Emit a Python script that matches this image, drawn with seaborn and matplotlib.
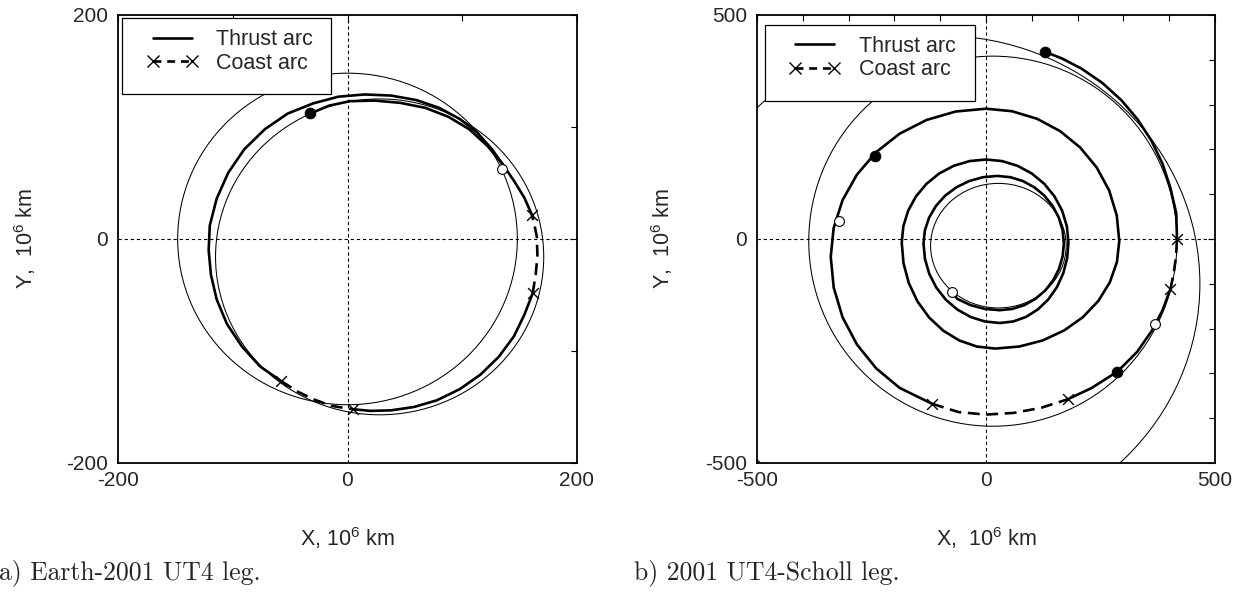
import numpy as np
import pandas as pd
import matplotlib
matplotlib.use("Agg")
import matplotlib.pyplot as plt
import seaborn as sns
from matplotlib.patches import Ellipse, Rectangle
from matplotlib.lines import Line2D

sns.set_style("white")
plt.rcParams['font.family'] = ['Liberation Sans', 'DejaVu Sans']
plt.rcParams['mathtext.fontset'] = 'custom'
plt.rcParams['mathtext.rm'] = 'Liberation Sans'
plt.rcParams['mathtext.it'] = 'Liberation Sans:italic'
plt.rcParams['mathtext.bf'] = 'Liberation Sans:bold'
plt.rcParams['axes.unicode_minus'] = False

# ---------------- Panel a data (10^6 km) ----------------
a_thrust1_x = [137, 126, 113, 98, 80, 60, 38, 15, -8, -30, -52, -72, -90, -104, -114, -120, -121, -119, -114, -105, -92, -76, -57.6]
a_thrust1_y = [64, 80, 95, 107, 117, 124, 128, 129, 127, 121, 112, 98, 80, 59, 36, 12, -10, -32, -54, -76, -96, -114, -127]
a_coast1_x = [-57.6, -44, -30, -14, 4.5]
a_coast1_y = [-127, -136, -143, -149, -152]
a_thrust2_x = [4.5, 20, 38, 58, 78, 98, 116, 132, 145, 154, 161.4]
a_thrust2_y = [-152, -153.5, -153, -150, -144, -134, -121, -105, -87, -68, -48.5]
a_coast2_x = [161.4, 164, 165.5, 165, 163, 160.7]
a_coast2_y = [-48.5, -32, -15, 2, 12, 21.7]
a_thrust3_x = [160.7, 154, 145, 135, 122, 106, 88, 68, 46, 24, 2, -16, -32.5]
a_thrust3_y = [21.7, 37, 52, 67, 83, 98, 109, 117, 121.5, 123.5, 123, 119, 112]
# thin orbits: centre x, centre y, width, height
a_orbits = [(0, 0, 296, 296), (28, -16, 286, 282)]
a_filled = [(-32.5, 112)]
a_open = [(135, 62.5)]

# ---------------- Panel b data (10^6 km) ----------------
b_thrust1_x = [-74, -62.6, -33.7, -2.5, 30,
               57.3, 83.6, 107.8, 129, 146.3, 159.3, 167.3, 170,
               167.2, 159, 145.5, 127.5, 105.6, 80.5, 53.3, 25,
               -6.5, -36.8, -64.8, -89.2, -109.2, -124.2, -133.4, -136.5,
               -133.3, -123.8, -108.4, -87.7, -62.6, -33.7, -2.5, 30,
               59.3, 87.4, 113.4, 136, 154.7, 168.6, 177.2, 180,
               176.6, 166.3, 149.6, 127.3, 100.1, 68.9, 35.1, 0,
               -35.9, -70.5, -102.3, -130, -152.9, -170, -180.5, -184,
               -180.1, -168.5, -149.5, -124.2, -93.4, -58.1, -19.8, 20,
               72.8, 123.8, 170.7, 211.6, 245.3, 270.4, 285.8, 291,
               285.5, 268.9, 241.8, 205.7, 161.8, 111.4, 56.7, 0,
               -66.1, -129.7, -188.5, -239.7, -281.7, -313.2, -332.6, -339,
               -332.5, -313.2, -281.7, -239.7, -188.5, -117.4]
b_thrust1_y = [-119, -133.8, -147.7, -156.2, -159,
               -156.2, -147.7, -133.8, -115.4, -92.8, -67, -39.1, -10,
               19.4, 47.7, 73.8, 96.6, 115.2, 129.2, 137.8, 140.7,
               137.8, 129.2, 115.2, 96.6, 73.8, 47.7, 19.4, -10,
               -44.6, -78, -108.7, -135.6, -157.6, -174.1, -184.2, -187.6,
               -184.2, -174, -157.2, -135, -107.9, -76.7, -43, -8,
               28.1, 63, 95, 123, 146, 163.2, 173.8, 177.3,
               173.8, 163.2, 146, 123, 95, 63, 28.1, -8,
               -54.2, -98.6, -139.6, -175.4, -204.7, -226.7, -240.2, -244.7,
               -240.1, -226.5, -204.2, -174.5, -138.3, -96.7, -51.7, -5,
               52.7, 108.2, 159.4, 204, 240.7, 268.2, 285.1, 290.7,
               284.4, 265.6, 235, 193.8, 143.8, 86.6, 24.5, -40,
               -108.6, -174.7, -235.7, -288.9, -332.5, -368]
b_coast1_x = [-117.4, -60, 0, 60, 120, 178]
b_coast1_y = [-368, -386.4, -392, -388.3, -377, -358]
b_thrust2_x = [178, 230, 287, 330, 362, 385, 402.6]
b_thrust2_y = [-358, -333, -296, -252, -205, -160, -112.5]
b_coast2_x = [402.6, 410, 415, 417]
b_coast2_y = [-112.5, -75, -38, 0]
b_thrust3_x = [417, 415.4, 402.8, 385.3, 361.1, 330.8, 294.9, 253.9, 208.5, 166.3, 128.7]
b_thrust3_y = [0, 57.3, 113.6, 168, 219.5, 267.2, 310.4, 348.3, 380.2, 402.6, 417.7]
b_orbits = [(27, -15, 296, 278), (15, -5, 804, 826), (-100, -100, 1134, 1108)]
b_filled = [(128.7, 417.7), (-241.7, 185.8), (287, -296)]
b_open = [(-74, -119), (-321.7, 41), (369.6, -189)]

THICK = 1.9
THIN = 0.75
DASH = (0, (4.5, 2.5))
FS = 15.5


def draw_line(ax, xs, ys, dashed=False):
    df = pd.DataFrame({"x": xs, "y": ys})
    sns.lineplot(data=df, x="x", y="y", sort=False, estimator=None, color="black",
                 lw=THICK, ax=ax, linestyle=DASH if dashed else "-", zorder=4)
    if dashed:
        ends = df.iloc[[0, -1]]
        sns.scatterplot(data=ends, x="x", y="y", marker="x", color="black", s=60,
                        linewidth=1.0, ax=ax, zorder=5)


def setup(ax, lim, minor):
    ax.set_xlim(-lim, lim)
    ax.set_ylim(-lim, lim)
    ax.set_xticks([-lim, 0, lim])
    ax.set_yticks([-lim, 0, lim])
    ax.set_xticks(np.arange(-lim, lim + 1, minor), minor=True)
    ax.set_yticks(np.arange(-lim, lim + 1, minor), minor=True)
    ax.tick_params(which="both", direction="in", top=True, right=True, color="black",
                   labelsize=15, width=0.8)
    ax.tick_params(which="major", length=5)
    ax.tick_params(which="minor", length=4)
    ax.tick_params(axis="x", which="major", pad=6)
    ax.tick_params(axis="y", which="major", pad=7)
    for s in ax.spines.values():
        s.set_color("black")
        s.set_linewidth(1.3)
        s.set_visible(True)
    ax.axhline(0, color="black", lw=0.8, ls=(0, (3, 2.5)), zorder=1)
    ax.axvline(0, color="black", lw=0.8, ls=(0, (3, 2.5)), zorder=1)


def draw_panel(ax, orbits, arcs, filled, opened):
    for cx, cy, w, h in orbits:
        ax.add_patch(Ellipse((cx, cy), w, h, fill=False, ec="black", lw=THIN, zorder=2))
    for xs, ys, d in arcs:
        draw_line(ax, xs, ys, d)
    fx = [p[0] for p in filled]; fy = [p[1] for p in filled]
    ox = [p[0] for p in opened]; oy = [p[1] for p in opened]
    sns.scatterplot(x=fx, y=fy, marker="o", color="black", s=60, edgecolor="black", ax=ax, zorder=6)
    sns.scatterplot(x=ox, y=oy, marker="o", facecolor="white", s=50, edgecolor="black",
                    linewidth=0.8, ax=ax, zorder=6)


fig = plt.figure(figsize=(12.5, 5.97), dpi=100)
ax1 = fig.add_axes([0.0944, 0.2245, 0.3672, 0.7505])
ax2 = fig.add_axes([0.6056, 0.2245, 0.3664, 0.7505])

setup(ax1, 200, 100)
setup(ax2, 500, 100)

draw_panel(ax1, a_orbits,
           [(a_thrust1_x, a_thrust1_y, False), (a_coast1_x, a_coast1_y, True),
            (a_thrust2_x, a_thrust2_y, False), (a_coast2_x, a_coast2_y, True),
            (a_thrust3_x, a_thrust3_y, False)],
           a_filled, a_open)
draw_panel(ax2, b_orbits,
           [(b_thrust1_x, b_thrust1_y, False), (b_coast1_x, b_coast1_y, True),
            (b_thrust2_x, b_thrust2_y, False), (b_coast2_x, b_coast2_y, True),
            (b_thrust3_x, b_thrust3_y, False)],
           b_filled, b_open)

handles = [Line2D([0], [0], color="black", lw=THICK, ls="-"),
           Line2D([0], [0], color="black", lw=THICK, ls=(0, (3, 2.2)), marker="x",
                  markersize=8, markeredgewidth=1.0)]
labels = ["Thrust arc", "Coast arc"]
# frame boxes (axes fraction) and legend anchors
frames = {ax1: (0.0098, 0.823, 0.4543, 0.1698), ax2: (0.0175, 0.808, 0.4595, 0.1698)}
for ax in (ax1, ax2):
    x0, y0, w, h = frames[ax]
    ax.add_patch(Rectangle((x0, y0), w, h, transform=ax.transAxes, facecolor="white",
                           edgecolor="black", lw=0.9, zorder=9, clip_on=False))
    px_w = ax.get_window_extent().width
    px_h = ax.get_window_extent().height
    anchor = (x0 + 24 / px_w, y0 + h - 11 / px_h)
    leg = ax.legend(handles, labels, loc="upper left", bbox_to_anchor=anchor, borderaxespad=0,
                    fontsize=FS, frameon=False, handlelength=2.4, handletextpad=0.85,
                    borderpad=0, labelspacing=0.12, numpoints=2)
    leg.set_zorder(10)

ax1.set_xlabel(r"X, 10$^6$ km", fontsize=FS)
ax1.set_ylabel(r"Y,  10$^6$ km", fontsize=FS)
ax2.set_xlabel(r"X,  10$^6$ km", fontsize=FS)
ax2.set_ylabel(r"Y,  10$^6$ km", fontsize=FS)
ax1.xaxis.set_label_coords(0.5, -0.138)
ax2.xaxis.set_label_coords(0.5, -0.138)
ax1.yaxis.set_label_coords(-0.175, 0.5)
ax2.yaxis.set_label_coords(-0.18, 0.5)

fig.text(-0.001, 0.029, "a) Earth-2001 UT4 leg.", family="cmr10", fontsize=18.5, ha="left", va="baseline")
fig.text(0.507, 0.029, "b) 2001 UT4-Scholl leg.", family="cmr10", fontsize=18.5, ha="left", va="baseline")

fig.savefig("out.png", dpi=100)
